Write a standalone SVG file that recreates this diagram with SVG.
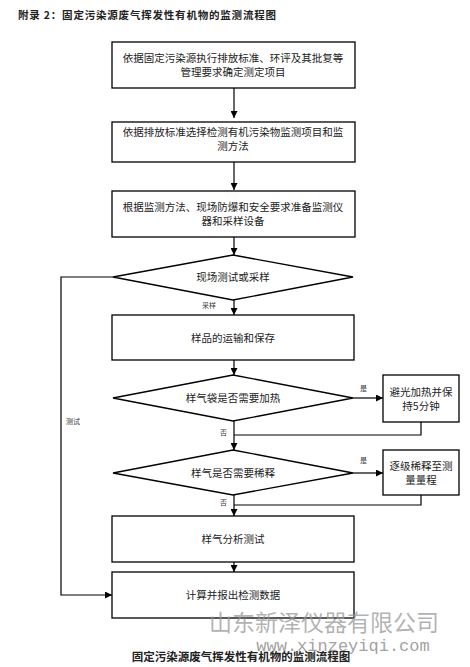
<svg xmlns="http://www.w3.org/2000/svg" width="470" height="667" viewBox="0 0 470 667">
<style>
.b{fill:#fff;stroke:#000;stroke-width:1.3}
.t{font-family:"Noto Sans CJK SC","Liberation Sans",sans-serif;font-size:10.5px;fill:#222;text-anchor:middle}
.s{font-family:"Noto Sans CJK SC","Liberation Sans",sans-serif;font-size:7px;fill:#333}
.c{fill:none;stroke:#000;stroke-width:1.2}
</style>
<defs>
<marker id="a" viewBox="0 0 10 10" refX="10" refY="5" markerWidth="7" markerHeight="7" markerUnits="userSpaceOnUse" orient="auto"><path d="M0,0L10,5L0,10z" fill="#000"/></marker>
</defs>
<rect width="470" height="667" fill="#fff"/>
<text x="18" y="19" font-family="Noto Sans CJK SC,Liberation Sans,sans-serif" font-size="10.5" font-weight="bold" fill="#222" letter-spacing="0.8">附录 2：固定污染源废气挥发性有机物的监测流程图</text>
<g id="connectors">
<path class="c" d="M234,88V118" marker-end="url(#a)"/>
<path class="c" d="M234,162V190" marker-end="url(#a)"/>
<path class="c" d="M234,237V255" marker-end="url(#a)"/>
<path class="c" d="M234,300V315" marker-end="url(#a)"/>
<path class="c" d="M234,360V375" marker-end="url(#a)"/>
<path class="c" d="M353,398H383" marker-end="url(#a)"/>
<path class="c" d="M421,422V435H234"/>
<path class="c" d="M234,421V450" marker-end="url(#a)"/>
<path class="c" d="M353,473H383" marker-end="url(#a)"/>
<path class="c" d="M421,495V505H234"/>
<path class="c" d="M234,495V516" marker-end="url(#a)"/>
<path class="c" d="M234,562V572" marker-end="url(#a)"/>
<path class="c" d="M113,277H61V595H112" marker-end="url(#a)"/>
<text class="s" x="202" y="308">采样</text>
<text class="s" x="360" y="391">是</text>
<text class="s" x="220" y="435">否</text>
<text class="s" x="360" y="463">是</text>
<text class="s" x="220" y="505">否</text>
<text class="s" x="66" y="424">测试</text>
</g>
<g id="n1"><rect class="b" x="112" y="42" width="243" height="46"/><text class="t" x="233" y="62">依据固定污染源执行排放标准、环评及其批复等</text><text class="t" x="233" y="76">管理要求确定测定项目</text></g>
<g id="n2"><rect class="b" x="112" y="122" width="243" height="40"/><text class="t" x="233" y="136">依据排放标准选择检测有机污染物监测项目和监</text><text class="t" x="233" y="150">测方法</text></g>
<g id="n3"><rect class="b" x="112" y="191" width="243" height="46"/><text class="t" x="233" y="211">根据监测方法、现场防爆和安全要求准备监测仪</text><text class="t" x="233" y="225">器和采样设备</text></g>
<g id="n4"><polygon class="b" points="233,255 353,277 233,300 113,277"/><text class="t" x="233" y="281">现场测试或采样</text></g>
<g id="n5"><rect class="b" x="112" y="315" width="242" height="45"/><text class="t" x="233" y="342">样品的运输和保存</text></g>
<g id="n6"><polygon class="b" points="233,375 353,398 233,421 113,398"/><text class="t" x="233" y="402">样气袋是否需要加热</text></g>
<g id="n7"><rect class="b" x="383" y="375" width="76" height="47"/><text class="t" x="421" y="396">避光加热并保</text><text class="t" x="421" y="410">持5分钟</text></g>
<g id="n8"><polygon class="b" points="233,450 353,473 233,495 113,473"/><text class="t" x="233" y="477">样气是否需要稀释</text></g>
<g id="n9"><rect class="b" x="383" y="450" width="76" height="45"/><text class="t" x="421" y="470">逐级稀释至测</text><text class="t" x="421" y="484">量量程</text></g>
<g id="n10"><rect class="b" x="112" y="516" width="242" height="46"/><text class="t" x="233" y="543">样气分析测试</text></g>
<g id="n11"><rect class="b" x="112" y="572" width="242" height="46"/><text class="t" x="233" y="599">计算并报出检测数据</text></g>
<text x="324" y="631" font-family="Noto Sans CJK SC,sans-serif" font-size="23" fill="#999" fill-opacity="0.75" text-anchor="middle">山东新泽仪器有限公司</text>
<text x="241" y="661" font-family="Noto Sans CJK SC,Liberation Sans,sans-serif" font-size="11.5" font-weight="bold" fill="#222" text-anchor="middle">固定污染源废气挥发性有机物的监测流程图</text>
<text x="343" y="651" font-family="Liberation Mono,monospace" font-size="17" fill="#888" fill-opacity="0.8" text-anchor="middle">www.xinzeyiqi.com</text>
</svg>
